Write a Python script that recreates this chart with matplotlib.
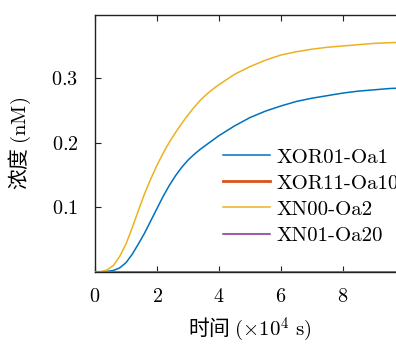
import matplotlib
matplotlib.use('Agg')
import matplotlib.pyplot as plt

# (time in 1e4 s, concentration in nM)
t = [0, 0.2, 0.4, 0.6, 0.8, 1.0, 1.2, 1.4, 1.6, 1.8, 2.0, 2.2, 2.4, 2.6,
     2.8, 3.0, 3.2, 3.4, 3.6, 3.8, 4.0, 4.5, 5.0, 5.5, 6.0, 6.5, 7.0,
     7.5, 8.0, 8.5, 9.0, 9.5, 10.0]
xor01_oa1 = [0, 0, 0.0005, 0.002, 0.006, 0.014, 0.027, 0.043, 0.060, 0.079,
             0.098, 0.117, 0.134, 0.149, 0.162, 0.173, 0.182, 0.190, 0.197,
             0.204, 0.211, 0.226, 0.239, 0.249, 0.257, 0.264, 0.269, 0.273,
             0.277, 0.280, 0.282, 0.284, 0.285]
xor11_oa10 = [0] * len(t)
xn00_oa2 = [0, 0, 0.003, 0.010, 0.024, 0.043, 0.068, 0.095, 0.121, 0.144,
            0.165, 0.184, 0.201, 0.216, 0.230, 0.243, 0.255, 0.266, 0.275,
            0.283, 0.290, 0.306, 0.318, 0.328, 0.336, 0.341, 0.345, 0.348,
            0.350, 0.352, 0.354, 0.355, 0.356]
xn01_oa20 = [0] * len(t)

labels = ['XOR01-Oa1', 'XOR11-Oa10', 'XN00-Oa2', 'XN01-Oa20']
colors = ['#0072BD', '#D95319', '#EDB120', '#7E2F8E']
xticks = [0, 2, 4, 6, 8]
yticks = [0.1, 0.2, 0.3]

plt.rcParams['font.family'] = ['cmr10', 'Noto Sans CJK SC', 'DejaVu Sans']
plt.rcParams['mathtext.fontset'] = 'cm'
plt.rcParams['axes.formatter.use_mathtext'] = True
plt.rcParams['xtick.direction'] = 'in'
plt.rcParams['ytick.direction'] = 'in'

W, H = 396, 345
fig = plt.figure(figsize=(W / 100, H / 100), dpi=100)
# axes runs past the right edge, like the cropped original
ax = fig.add_axes([95 / W, 73.3 / H, 310 / W, 256.7 / H])

series = [xor01_oa1, xor11_oa10, xn00_oa2, xn01_oa20]
widths = [1.1, 2.0, 1.1, 1.1]
zords = [3, 5, 3, 2]
for y, lab, c, lw, z in zip(series, labels, colors, widths, zords):
    ax.plot(t, y, color=c, lw=lw, label=lab, zorder=z)

ax.set_xlim(0, 10)
ax.set_ylim(0, 0.398)
ax.set_xticks(xticks)
ax.set_yticks(yticks)
ax.tick_params(labelsize=14.5, length=4, width=0.8, top=True, right=True,
               color='#222222')
ax.tick_params(axis='x', pad=12)
ax.tick_params(axis='y', pad=12)
for s in ax.spines.values():
    s.set_linewidth(1.0)
    s.set_color('#222222')

ax.set_xlabel(r'时间 $(\times 10^4\ \mathrm{s})$', fontsize=15,
              family='Noto Sans CJK SC', labelpad=7)
ax.set_ylabel(r'浓度 $(\mathrm{nM})$', fontsize=15,
              family='Noto Sans CJK SC', labelpad=13)

ax.legend(loc='upper left', bbox_to_anchor=(223 / W, (H - 148) / H),
          bbox_transform=fig.transFigure, frameon=False, fontsize=15,
          borderpad=0, borderaxespad=0, handlelength=2.25,
          handletextpad=0.3, labelspacing=0.36)

fig.savefig('out.png', dpi=100)
